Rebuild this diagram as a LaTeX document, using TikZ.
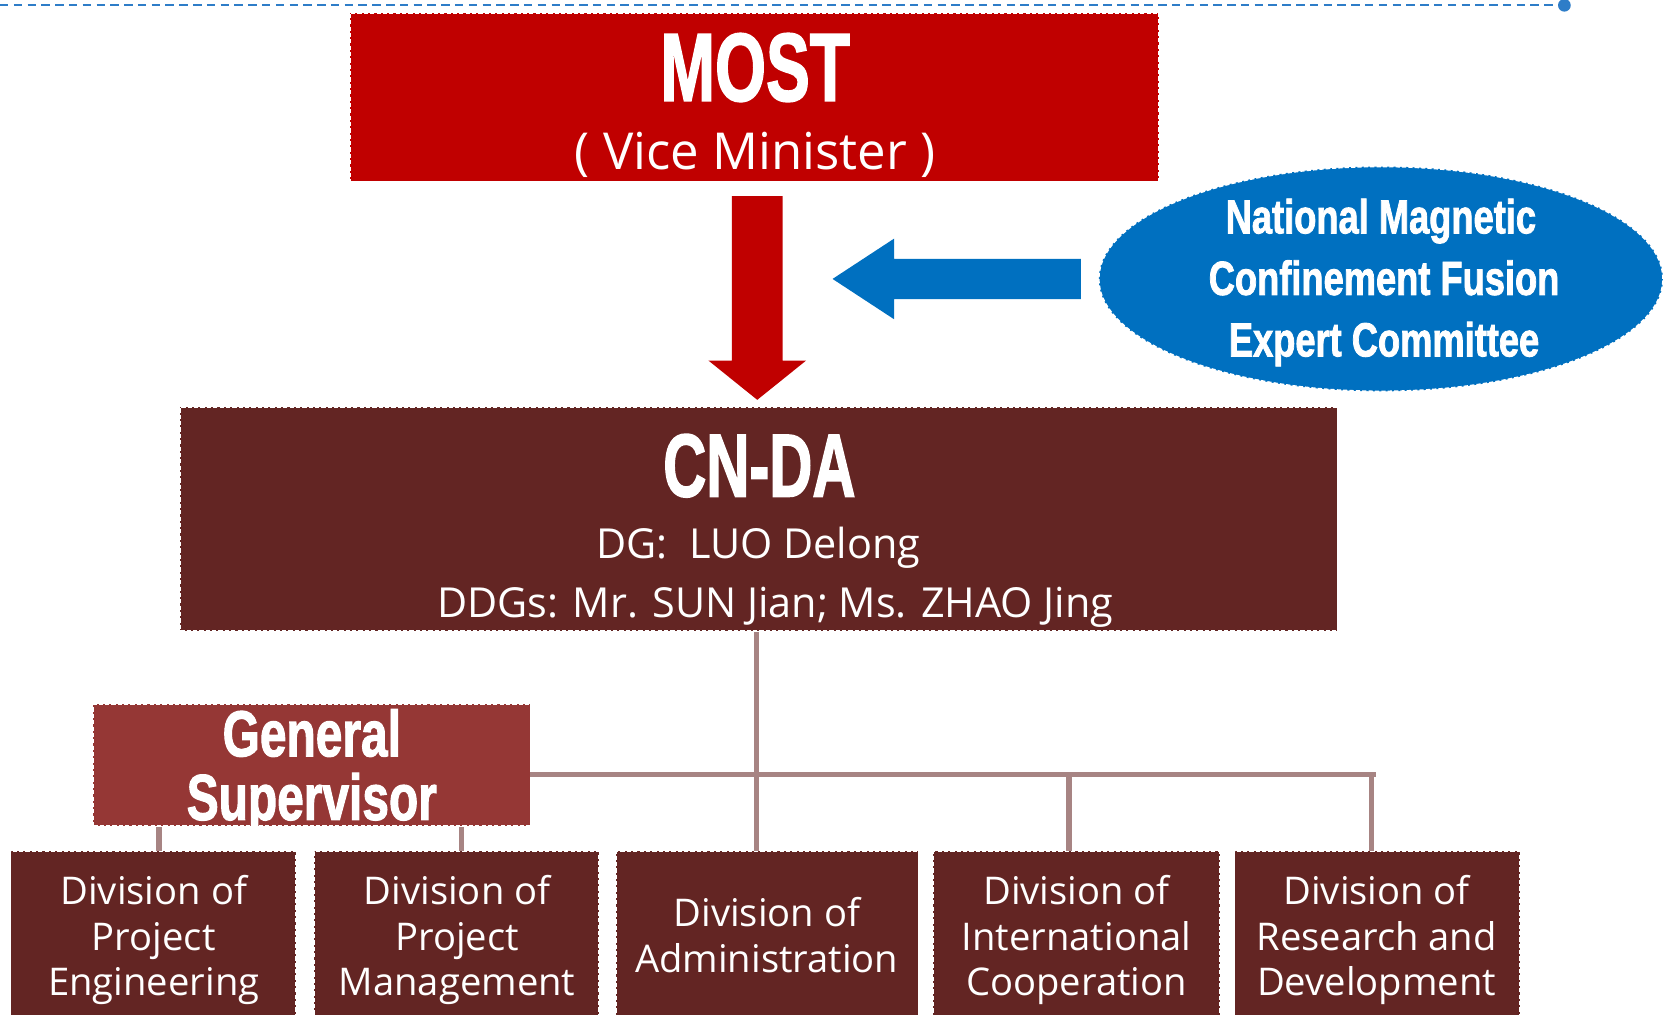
\documentclass[tikz,border=0pt]{standalone}
\usepackage{fontspec}
\setmainfont{Open Sans}
\newfontfamily\impfont{Liberation Sans}[BoldFeatures={FakeBold=2}]
\usetikzlibrary{shapes.geometric}
\definecolor{mostred}{RGB}{192,0,0}
\definecolor{cndacol}{RGB}{99,37,35}
\definecolor{gscol}{RGB}{149,55,53}
\definecolor{blucol}{RGB}{0,112,192}
\definecolor{conncol}{RGB}{167,132,131}
\definecolor{toplinecol}{RGB}{46,125,200}
\newcommand{\imp}[3]{\scalebox{#1}[1]{\fontsize{#2}{#2}\impfont\bfseries #3}}
\tikzset{
  box/.style={draw=white, dashed, dash pattern=on 4pt off 2pt, line width=1.5pt, inner sep=0pt, minimum width=#1},
  divbox/.style={box=270, fill=cndacol, minimum height=170, anchor=north},
  txt/.style={text=white, inner sep=0pt, anchor=base},
  divtxt/.style={txt, align=center, font=\fontsize{36}{43}\selectfont},
  conn/.style={draw=conncol, line width=5pt},
}
\begin{document}
\begin{tikzpicture}[x=1pt,y=-1pt]
\useasboundingbox (0,0) rectangle (1568,957);
\clip (0,0) rectangle (1568,957);
% top dashed line
\coordinate (tl0) at (0,5);
\coordinate (tl1) at (1475,5);
\draw[toplinecol, line width=2pt, dash pattern=on 8pt off 5pt] (tl0) -- (tl1);
\fill[toplinecol] (tl1) circle (6);
% MOST
\node[box=763, fill=mostred, minimum height=159] (most) at (711.5,91.5) {};
\node[txt] (mostT) at (712,95) {\imp{0.68}{91}{MOST}};
\node[txt] (mostS) at (712,160) {\fontsize{48}{48}\selectfont ( Vice Minister )};
% red down arrow
\fill[mostred] (690,185) -- (738,185) -- (738,340) -- (760,340) -- (714,377) -- (668,340) -- (690,340) -- cycle;
% blue arrow
\fill[blucol] (1019,244) -- (843,244) -- (843,225) -- (785,263) -- (843,301) -- (843,282) -- (1019,282) -- cycle;
% ellipse
\node[ellipse, draw=white, dashed, dash pattern=on 4pt off 2pt, line width=1.5pt, fill=blucol, minimum width=532, minimum height=212, inner sep=0pt] (nmcf) at (1302,263) {};
\node[txt] (e1) at (1302,220) {\imp{0.76}{45}{National Magnetic}};
\node[txt] (e2) at (1305,278) {\imp{0.76}{45}{Confinement Fusion}};
\node[txt] (e3) at (1305,336) {\imp{0.76}{45}{Expert Committee}};
% CN-DA
\node[box=1091, fill=cndacol, minimum height=211] (cnda) at (715.5,489.5) {};
\node[txt] (cndaT) at (716,468) {\imp{0.67}{84}{CN-DA}};
\node[txt] (cndaA) at (715,527) {\fontsize{39}{39}\selectfont DG:\ \ LUO Delong};
\node[txt] (cndaB) at (731,582) {\fontsize{39}{39}\selectfont DDGs: Mr. SUN Jian; Ms. ZHAO Jing};
% General Supervisor
\node[box=412, fill=gscol, minimum height=115] (gs) at (294,721.5) {};
\node[txt] (gs1) at (294,713) {\imp{0.74}{61}{General}};
\node[txt] (gs2) at (294,773) {\imp{0.74}{61}{Supervisor}};
% divisions
\node[divbox, box=269] (d1) at (144.5,802) {};
\node[divbox, box=269] (d2) at (430.5,802) {};
\node[divbox, box=285] (d3) at (723.5,802) {};
\node[divbox, box=270] (d4) at (1015,802) {};
\node[divbox, box=269] (d5) at (1298.5,802) {};
\node[divtxt] (t1) at (145,939) {Division of\\Project\\Engineering};
\node[divtxt] (t2) at (431,939) {Division of\\Project\\Management};
\node[divtxt] (t3) at (723,917) {Division of\\Administration};
\node[divtxt] (t4) at (1015,939) {Division of\\International\\Cooperation};
\node[divtxt] (t5) at (1298,939) {Division of\\Research and\\Development};
% connectors
\coordinate (hubL) at (500,730);
\coordinate (hubR) at (1297,730);
\draw[conn] (cnda.south -| 713,0) -- (d3.north -| 713,0);
\draw[conn] (hubL) -- (hubR);
\draw[conn] (d4.north -| 1008,0) -- (1008,730);
\draw[conn] (d5.north -| 1293,0) -- (1293,730);
\draw[conn] (gs.south -| 150,0) -- (d1.north -| 150,0);
\draw[conn] (gs.south -| 435,0) -- (d2.north -| 435,0);
\end{tikzpicture}
\end{document}
